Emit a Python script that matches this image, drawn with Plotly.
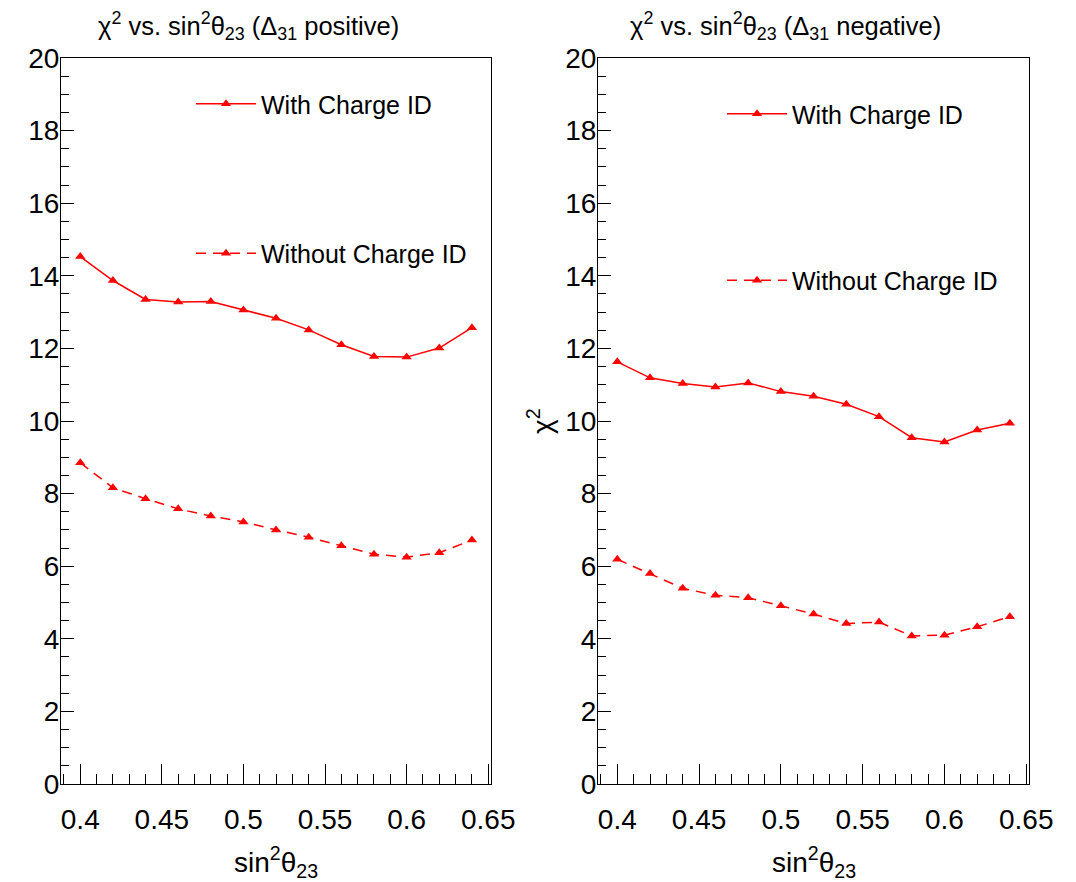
import plotly.graph_objects as go

# ---- data ----
sin2_theta23 = [0.40, 0.42, 0.44, 0.46, 0.48, 0.50, 0.52, 0.54, 0.56, 0.58, 0.60, 0.62, 0.64]
pos_with_cid = [14.53, 13.87, 13.35, 13.28, 13.29, 13.06, 12.83, 12.51, 12.10, 11.78, 11.76, 12.01, 12.57]
pos_without_cid = [8.85, 8.16, 7.86, 7.58, 7.38, 7.22, 7.00, 6.80, 6.56, 6.33, 6.25, 6.37, 6.72]
neg_with_cid = [11.63, 11.19, 11.03, 10.94, 11.05, 10.81, 10.68, 10.46, 10.12, 9.54, 9.42, 9.75, 9.94]
neg_without_cid = [6.19, 5.80, 5.39, 5.20, 5.13, 4.91, 4.68, 4.42, 4.46, 4.08, 4.10, 4.33, 4.61]

x_tick_vals = [0.40, 0.45, 0.50, 0.55, 0.60, 0.65]
x_tick_text = ["0.4", "0.45", "0.5", "0.55", "0.6", "0.65"]
y_tick_vals = [0, 2, 4, 6, 8, 10, 12, 14, 16, 18, 20]

series_names = ["With Charge ID", "Without Charge ID"]
titles = ["χ<sup>2</sup> vs. sin<sup>2</sup>θ<sub>23</sub> (Δ<sub>31</sub> positive)",
          "χ<sup>2</sup> vs. sin<sup>2</sup>θ<sub>23</sub> (Δ<sub>31</sub> negative)"]
x_title = "sin<sup>2</sup>θ<sub>23</sub>"
y_title = "χ<sup>2</sup>"

RED = "#ff0000"
FONT = "Liberation Sans, Arial, sans-serif"
W, H = 1076, 882

fig = go.Figure()

def add_pair(ys_with, ys_without, xa, ya, leg):
    fig.add_trace(go.Scatter(
        x=sin2_theta23, y=ys_with, mode="lines+markers", name=series_names[0],
        line=dict(color=RED, width=1.5),
        marker=dict(symbol="triangle-up", size=9, color=RED),
        xaxis=xa, yaxis=ya, legend=leg, legendgroup=leg + "a"))
    fig.add_trace(go.Scatter(
        x=sin2_theta23, y=ys_without, mode="lines+markers", name=series_names[1],
        line=dict(color=RED, width=1.5, dash="10px,7px"),
        marker=dict(symbol="triangle-up", size=9, color=RED),
        xaxis=xa, yaxis=ya, legend=leg, legendgroup=leg + "b"))

add_pair(pos_with_cid, pos_without_cid, "x", "y", "legend")
add_pair(neg_with_cid, neg_without_cid, "x2", "y2", "legend2")

ydom = [(882 - 784) / H, (882 - 58) / H]
xdom1 = [61 / W, 491 / W]
xdom2 = [598 / W, 1029 / W]

def xaxis_cfg(dom, anchor):
    return dict(domain=dom, anchor=anchor, range=[0.3882, 0.6517], automargin=False,
                tickvals=x_tick_vals, ticktext=x_tick_text,
                ticks="inside", ticklen=20, tickwidth=1, tickcolor="black",
                minor=dict(ticks="inside", ticklen=10, dtick=0.01, tick0=0.39,
                           tickcolor="black", tickwidth=1, showgrid=False),
                showline=True, linecolor="black", linewidth=1, mirror=True,
                showgrid=False, zeroline=False,
                tickfont=dict(family=FONT, size=28, color="black"),
                ticklabelstandoff=10)

def yaxis_cfg(anchor):
    return dict(domain=ydom, anchor=anchor, range=[0, 20], automargin=False,
                tickvals=y_tick_vals,
                ticks="inside", ticklen=13, tickwidth=1, tickcolor="black",
                minor=dict(ticks="inside", ticklen=8, dtick=0.5, tick0=0,
                           tickcolor="black", tickwidth=1, showgrid=False),
                showline=True, linecolor="black", linewidth=1, mirror=True,
                showgrid=False, zeroline=False,
                tickfont=dict(family=FONT, size=28, color="black"),
                ticklabelstandoff=-5)

annotations = []
for dom, t in [(xdom1, titles[0]), (xdom2, titles[1])]:
    cx = (dom[0] + dom[1]) / 2
    annotations.append(dict(text=t, x=cx - 28 / W, y=(882 - 26) / H, xref="paper", yref="paper",
                            showarrow=False, xanchor="center", yanchor="middle",
                            font=dict(family=FONT, size=25.5, color="black")))
    annotations.append(dict(text=x_title, x=cx, y=(882 - 862) / H, xref="paper", yref="paper",
                            showarrow=False, xanchor="center", yanchor="middle",
                            font=dict(family=FONT, size=28, color="black")))
annotations.append(dict(text=y_title, x=540 / W, y=(882 - 421) / H, xref="paper", yref="paper",
                        showarrow=False, xanchor="center", yanchor="middle", textangle=-90,
                        font=dict(family=FONT, size=28, color="black")))

legend_common = dict(bgcolor="rgba(0,0,0,0)", borderwidth=0,
                     font=dict(family=FONT, size=25, color="black"),
                     xanchor="left", yanchor="top", itemwidth=60, orientation="v")

fig.update_layout(
    template="none",
    width=W, height=H, margin=dict(l=0, r=0, t=0, b=0, autoexpand=False),
    paper_bgcolor="white", plot_bgcolor="white",
    xaxis=xaxis_cfg(xdom1, "y"), yaxis=yaxis_cfg("x"),
    xaxis2=xaxis_cfg(xdom2, "y2"), yaxis2=yaxis_cfg("x2"),
    annotations=annotations,
    legend=dict(x=191 / W, y=(882 - 81) / H, tracegroupgap=114, **legend_common),
    legend2=dict(x=722 / W, y=(882 - 91) / H, tracegroupgap=131, **legend_common),
    showlegend=True,
)

fig.write_html("out.html")
